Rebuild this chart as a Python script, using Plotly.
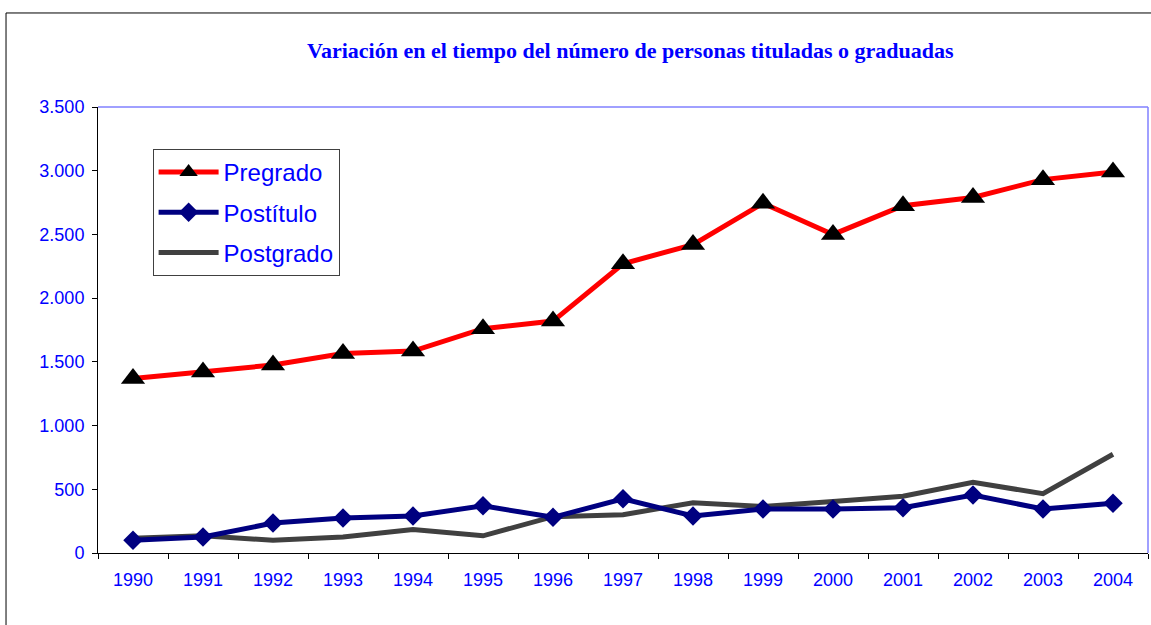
import plotly.graph_objs as go

years = ["1990", "1991", "1992", "1993", "1994", "1995", "1996", "1997",
         "1998", "1999", "2000", "2001", "2002", "2003", "2004"]

pregrado = [1370, 1420, 1475, 1565, 1585, 1760, 1820, 2270,
            2420, 2745, 2500, 2725, 2790, 2930, 2990]
postitulo = [100, 125, 235, 275, 290, 370, 280, 425,
             290, 345, 345, 355, 455, 345, 390]
postgrado = [115, 135, 100, 125, 185, 135, 285, 300,
             395, 365, 405, 445, 555, 465, 775]

y_ticks = [0, 500, 1000, 1500, 2000, 2500, 3000, 3500]

blue_text = '#0000FF'

# postgrado first so the marked series sit on top, legend order fixed by rank
traces = [
    go.Scatter(x=years, y=postgrado, name='Postgrado', mode='lines',
               line=dict(color='#404040', width=5),
               legendgroup='c', legendrank=3),
    go.Scatter(x=years, y=postitulo, name='Postítulo', mode='lines+markers',
               line=dict(color='#000080', width=5),
               marker=dict(symbol='diamond', size=15, color='#000080'),
               legendgroup='b', legendrank=2),
    go.Scatter(x=years, y=pregrado, name='Pregrado', mode='lines+markers',
               line=dict(color='#FF0000', width=5),
               marker=dict(symbol='triangle-up', size=21, color='black'),
               legendgroup='a', legendrank=1),
]

layout = go.Layout(
    width=1151,
    height=625,
    margin=dict(l=98, r=3, t=107, b=72),
    paper_bgcolor='white',
    plot_bgcolor='white',
    separators=',.',
    font=dict(family='Liberation Sans, Arial, sans-serif', color=blue_text, size=18),
    title=dict(
        text='<b>Variación en el tiempo del número de personas tituladas o graduadas</b>',
        font=dict(family='Liberation Serif, Times New Roman, serif', size=22, color=blue_text),
        x=0.507, xref='paper', xanchor='center',
        y=0.92, yref='container', yanchor='middle',
    ),
    xaxis=dict(
        type='category',
        range=[-0.5, 14.5],
        showline=True, linecolor='black', linewidth=1,
        ticks='outside', ticklen=5, tickcolor='black', tickson='boundaries',
        showgrid=False, zeroline=False,
        tickfont=dict(size=18, color=blue_text),
        ticklabelstandoff=10,
    ),
    yaxis=dict(
        range=[0, 3500],
        tickvals=y_ticks,
        tickformat=',d',
        showline=True, linecolor='black', linewidth=1,
        ticks='outside', ticklen=5, tickcolor='black',
        showgrid=False, zeroline=False,
        tickfont=dict(size=18, color=blue_text),
        ticklabelstandoff=4,
    ),
    legend=dict(
        x=0.052, y=0.906, xanchor='left', yanchor='top',
        bgcolor='white', bordercolor='#404040', borderwidth=1,
        font=dict(size=24, color=blue_text),
        traceorder='grouped', tracegroupgap=6,
        itemwidth=60,
    ),
    showlegend=True,
    shapes=[
        # light blue top and right edge of the plot area
        dict(type='line', xref='paper', yref='paper', x0=0, x1=1, y0=1, y1=1,
             line=dict(color='#8080FF', width=1.5)),
        dict(type='line', xref='paper', yref='paper', x0=1, x1=1, y0=0, y1=1,
             line=dict(color='#8080FF', width=1.5)),
        # outer chart frame, running off the right and bottom of the picture
        dict(type='rect', xref='paper', yref='paper',
             x0=-0.0876, x1=1.02, y0=-0.2, y1=1.2108,
             line=dict(color='black', width=1), layer='below'),
    ],
)

fig = go.Figure(data=traces, layout=layout)
fig.write_html("out.html", config={'displayModeBar': False},
               post_script="document.body.style.margin='0';")
